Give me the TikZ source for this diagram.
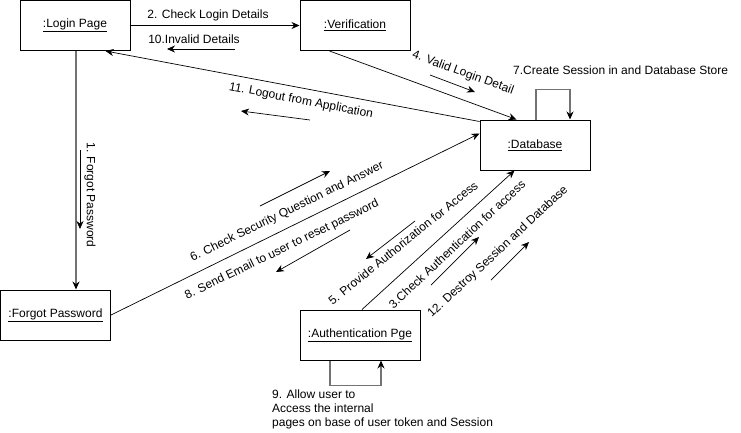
\documentclass[tikz,border=0pt]{standalone}
\usepackage{fontspec}
\setmainfont{Liberation Sans}
\usepackage{tikz}
\usetikzlibrary{arrows.meta,calc}

\tikzset{
    obj/.style={draw,line width=1pt,minimum height=50pt,inner sep=0pt,font=\fontsize{12}{14}\selectfont},
    msg/.style={-{Stealth[length=8pt,width=7pt]},line width=0.7pt},
    link/.style={-{Stealth[length=8pt,width=7pt,black]},draw=black!55,line width=1.2pt},
    lbl/.style={inner sep=0pt,font=\fontsize{12}{14}\selectfont}
}

\begin{document}
\begin{tikzpicture}[x=1pt,y=-1pt]
    \useasboundingbox (0,0) rectangle (741,432);

    \node[obj,minimum width=110pt] (login) at (75,25.5) {\underline{:Login Page}};
    \node[obj,minimum width=110pt] (verif) at (355,25.5) {\underline{:Verification}};
    \node[obj,minimum width=110pt] (db) at (535,145) {\underline{:Database}};
    \node[obj,minimum width=110pt] (forgot) at (55.5,315) {\underline{:Forgot Password}};
    \node[obj,minimum width=120pt] (auth) at (360,335) {\underline{:Authentication Pge}};

    \draw[msg] (login.east) -- (verif.west);
    \draw[link] ([xshift=1pt]login.south) -- ([xshift=1pt]login.south |- forgot.north);
    \draw[msg] ([xshift=30pt]verif.south west) -- ([xshift=37pt]db.north west);
    \draw[msg] ([yshift=-2pt]db.north west) -- ([xshift=-25pt]login.south east);
    \draw[msg] (forgot.east) -- ([yshift=-14pt]db.north west);
    \draw[msg] ([xshift=2pt]auth.north) -- ([xshift=35pt]db.south west);
    \draw[link] ([xshift=1pt]db.north) -- ++(0,-30) -| ([xshift=35pt]db.north);
    \draw[link] ([xshift=-30pt]auth.south) -- ++(0,25) -| ([xshift=21pt]auth.south);

    \node[lbl] (l2) at (208,15) {2. Check Login Details};
    \node[lbl] (l10) at (194,39) {10.Invalid Details};
    \node[lbl,rotate=-90] (l1) at (90,195) {1. Forgot Password};
    \node[lbl,rotate=-20] (l4) at (463,73) {4. Valid Login Detail};
    \node[lbl,anchor=west] (l7) at (513,70) {7.Create Session in and Database Store};
    \node[lbl,rotate=-11] (l11) at (301,101) {11. Logout from Application};
    \node[lbl,rotate=26] (l6) at (287,212) {6. Check Security Question and Answer};
    \node[lbl,rotate=26] (l8) at (282,250) {8. Send Email to user to reset password};
    \node[lbl,rotate=39] (l5) at (403,243) {5. Provide Authorization for Access};
    \node[lbl,rotate=43] (l3) at (457,244) {3.Check Authentication for access};
    \node[lbl,rotate=43] (l12) at (498,252) {12. Destroy Session and Database};
    \node[lbl,anchor=north west,align=left] (l9) at (272,390)
        {9. Allow user to\\Access the internal\\pages on base of user token and Session};

    \coordinate (s10) at (235,49);  \coordinate (e10) at (167,49);
    \coordinate (s1) at (80,150);   \coordinate (e1) at (80,229);
    \coordinate (s4) at (430,75);   \coordinate (e4) at (475,92);
    \coordinate (s11) at (310,120); \coordinate (e11) at (241,111);
    \coordinate (s6) at (260,206);  \coordinate (e6) at (330,171);
    \coordinate (s8) at (350,230);  \coordinate (e8) at (276,272);
    \coordinate (s5) at (415,221);  \coordinate (e5) at (366,259);
    \coordinate (s3) at (431,285);  \coordinate (e3) at (479,237);
    \coordinate (s12) at (491,280); \coordinate (e12) at (529,242);
    \foreach \m in {10,1,4,11,6,8,5,3,12}
        \draw[msg] (s\m) -- (e\m);
\end{tikzpicture}
\end{document}
